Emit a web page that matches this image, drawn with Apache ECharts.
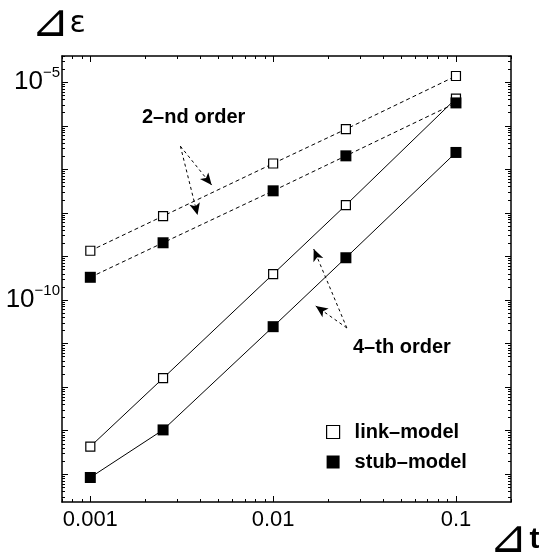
<!DOCTYPE html>
<html><head><meta charset="utf-8">
<script src="https://cdn.jsdelivr.net/npm/echarts@6/dist/echarts.min.js"></script>
<style>html,body{margin:0;padding:0;background:#fff}#c{width:539px;height:556px}</style>
</head><body><div id="c"></div>
<script>
// ---- data ----
const dt = [0.001, 0.0025, 0.01, 0.025, 0.1];
const link2 = [1.35e-9, 8.45e-9, 1.36e-7, 8.36e-7, 1.39e-5];
const stub2 = [3.32e-10, 2.06e-9, 3.21e-8, 2.04e-7, 3.35e-6];
const link4 = [4.31e-14, 1.60e-12, 3.94e-10, 1.51e-8, 4.22e-6];
const stub4 = [8.41e-15, 1.04e-13, 2.44e-11, 9.33e-10, 2.44e-7];
const xLabels = [0.001, 0.01, 0.1];
const xMajor = [0.001, 0.01, 0.1];
const yLabels = [1e-10, 1e-5];
const yMajor = [1e-14, 1e-13, 1e-12, 1e-11, 1e-10, 1e-9, 1e-8, 1e-7, 1e-6, 1e-5];
const arrows2 = [[[0.00311, 3.4e-7], [0.00461, 4.35e-8]], [[0.00311, 3.4e-7], [0.00386, 8.9e-9]]];
const arrows4 = [[[0.0253, 2.28e-11], [0.01667, 1.48e-9]], [[0.0253, 2.28e-11], [0.0171, 7.28e-11]]];

const X_MIN = 0.0007, X_MAX = 0.2, Y_MIN = 2.3e-15, Y_MAX = 4e-5;
function minorOf(decades, lo, hi) {
  const out = [];
  decades.forEach(d => { for (let m = 2; m <= 9; m++) { const v = +(m * d).toPrecision(3); if (v >= lo && v <= hi) out.push(v); } });
  return out;
}
const xMinor = minorOf([1e-4, 1e-3, 1e-2, 1e-1], X_MIN, X_MAX);
const yMinor = minorOf([1e-16,1e-15,1e-14,1e-13,1e-12,1e-11,1e-10,1e-9,1e-8,1e-7,1e-6,1e-5], Y_MIN, Y_MAX);

const FF = '"Liberation Sans", Arial, sans-serif';
const pair = (xs, ys) => xs.map((x, i) => [x, ys[i]]);

function xAx(pos, ticks, len, showLine, labels) {
  return {
    type: 'log', position: pos, min: X_MIN, max: X_MAX,
    axisLine: { show: showLine, lineStyle: { color: '#000', width: 1.5 } },
    axisTick: { show: true, inside: true, length: len, customValues: ticks, lineStyle: { color: '#000', width: 1 } },
    axisLabel: labels ? { show: true, customValues: labels, margin: 7, color: '#000', fontFamily: FF, fontSize: 22,
      formatter: v => String(+v.toPrecision(3)) } : { show: false },
    splitLine: { show: false }
  };
}
function yAx(pos, ticks, len, showLine, labels) {
  return {
    type: 'log', position: pos, min: Y_MIN, max: Y_MAX,
    axisLine: { show: showLine, lineStyle: { color: '#000', width: 1.5 } },
    axisTick: { show: true, inside: true, length: len, customValues: ticks, lineStyle: { color: '#000', width: 1 } },
    axisLabel: labels ? { show: true, customValues: labels, margin: 2, color: '#000', fontFamily: FF,
      formatter: v => { const e = Math.round(Math.log10(v)); return '{b|10}{s|' + (e < 0 ? '−' : '') + Math.abs(e) + '}'; },
      rich: { b: { fontSize: 26, lineHeight: 26, fontFamily: FF, color: '#000', verticalAlign: 'bottom' },
              s: { fontSize: 15, lineHeight: 15, fontFamily: FF, color: '#000', verticalAlign: 'bottom', padding: [0, 0, 15, 0] } } } : { show: false },
    splitLine: { show: false }
  };
}

const openSym = { color: '#fff', borderColor: '#000', borderWidth: 1.2 };
const fillSym = { color: '#000', borderColor: '#000', borderWidth: 0 };
const mkArrows = list => ({
  silent: true, symbol: ['none', 'arrow'], symbolSize: [8, 12], label: { show: false },
  lineStyle: { type: [3, 3], color: '#000', width: 1 }, emphasis: { disabled: true },
  data: list.map(a => [{ coord: a[0] }, { coord: a[1] }])
});

const chart = echarts.init(document.getElementById('c'));
chart.setOption({
  animation: false,
  backgroundColor: '#fff',
  grid: { left: 62, right: 28, top: 56, bottom: 54 },
  xAxis: [xAx('bottom', xMajor, 6, true, xLabels), xAx('bottom', xMinor, 3, false, null),
          xAx('top', xMajor, 6, true, null), xAx('top', xMinor, 3, false, null)],
  yAxis: [yAx('left', yMajor, 6, true, yLabels), yAx('left', yMinor, 3, false, null),
          yAx('right', yMajor, 6, true, null), yAx('right', yMinor, 3, false, null)],
  legend: {
    left: 321, top: 417, orient: 'vertical', itemGap: 10, itemWidth: 13, itemHeight: 13, selectedMode: false,
    textStyle: { fontFamily: FF, fontSize: 20, fontWeight: 'bold', color: '#000', padding: [0, 0, 0, 10] },
    data: [
      { name: 'link–model', icon: 'rect', itemStyle: openSym, lineStyle: { width: 0, opacity: 0 } },
      { name: 'stub–model', icon: 'rect', itemStyle: fillSym, lineStyle: { width: 0, opacity: 0 } }
    ]
  },
  series: [
    { name: 'link–model', type: 'line', data: pair(dt, link2), symbol: 'rect', symbolSize: 9, itemStyle: openSym,
      lineStyle: { color: '#000', width: 1, type: [4, 3] }, markLine: mkArrows(arrows2), z: 3 },
    { name: 'stub–model', type: 'line', data: pair(dt, stub2), symbol: 'rect', symbolSize: 11, itemStyle: fillSym,
      lineStyle: { color: '#000', width: 1, type: [4, 3] }, z: 3 },
    { name: 'link–model', type: 'line', data: pair(dt, link4), symbol: 'rect', symbolSize: 9, itemStyle: openSym,
      lineStyle: { color: '#000', width: 1 }, markLine: mkArrows(arrows4), z: 2 },
    { name: 'stub–model', type: 'line', data: pair(dt, stub4), symbol: 'rect', symbolSize: 11, itemStyle: fillSym,
      lineStyle: { color: '#000', width: 1 }, z: 4 }
  ],
  graphic: [
    { type: 'text', left: 142, top: 107, style: { text: '2–nd order', font: 'bold 20px ' + FF, fill: '#000' } },
    { type: 'text', left: 353, top: 337, style: { text: '4–th order', font: 'bold 20px ' + FF, fill: '#000' } },
    { type: 'text', left: 31, top: 1, style: { text: '{t|⊿}{e|ε}', rich: {
        t: { fontFamily: 'DejaVu Sans', fontSize: 46, fill: '#000', verticalAlign: 'bottom' },
        e: { fontFamily: 'DejaVu Sans', fontSize: 30, fill: '#000', verticalAlign: 'bottom', padding: [0, 0, 8, 0] } } } },
    { type: 'text', left: 489, top: 517, style: { text: '{t|⊿}{e|t}', rich: {
        t: { fontFamily: 'DejaVu Sans', fontSize: 46, fill: '#000', verticalAlign: 'bottom' },
        e: { fontFamily: FF, fontWeight: 'bold', fontSize: 30, fill: '#000', verticalAlign: 'bottom', padding: [0, 0, 8, 2] } } } }
  ]
});
</script></body></html>
